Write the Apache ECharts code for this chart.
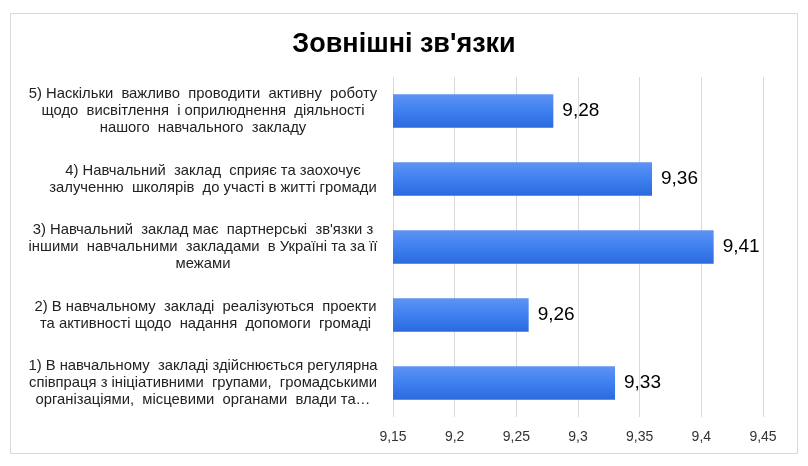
<!DOCTYPE html>
<html>
<head>
  <meta charset="utf-8">
  <script src="https://cdn.jsdelivr.net/npm/echarts@6/dist/echarts.min.js"></script>
  <style>
    body, html {
      height: 100%;
      margin: 0;
      padding: 0;
      background: #ffffff;
    }
    #chart {
      width: 808px;
      height: 466px;
    }
  </style>
</head>
<body>
  <div id="chart"></div>
  <script type="text/javascript">
    // bottom to top, as the category axis draws them
    const categories = [
      "1) В навчальному  закладі здійснюється регулярна\nспівпраця з ініціативними  групами,  громадськими\nорганізаціями,  місцевими  органами  влади та…",
      "2) В навчальному  закладі  реалізуються  проекти\nта активності щодо  надання  допомоги  громаді",
      "3) Навчальний  заклад має  партнерські  зв'язки з\nіншими  навчальними  закладами  в Україні та за її\nмежами",
      "4) Навчальний  заклад  сприяє та заохочує\nзалученню  школярів  до участі в житті громади",
      "5) Наскільки  важливо  проводити  активну  роботу\nщодо  висвітлення  і оприлюднення  діяльності\nнашого  навчального  закладу"
    ];
    const scores = [9.33, 9.26, 9.41, 9.36, 9.28];
    // small shift so each label block sits where the original wrapped it
    const labelShift = [0, 5, 0, 20, 0];

    const axisMin = 9.15;
    const axisMax = 9.45;
    const axisStep = 0.05;

    function comma(v) {
      return Number(v.toFixed(2)).toString().replace(".", ",");
    }

    let rich = {};
    labelShift.forEach((s, i) => {
      rich["c" + i] = {
        fontSize: 14.8,
        lineHeight: 17,
        color: "#222222",
        fontFamily: "Liberation Sans, Arial, sans-serif",
        align: "center",
        padding: [0, 0, 0, s]
      };
    });

    let chart = echarts.init(document.getElementById("chart"), null, { renderer: "canvas" });
    let option = {
      backgroundColor: "#ffffff",
      animation: false,
      title: {
        text: "Зовнішні зв'язки",
        left: "center",
        top: 26,
        textStyle: {
          fontFamily: "Liberation Sans, Arial, sans-serif",
          fontSize: 27,
          fontWeight: "bold",
          color: "#000000"
        }
      },
      graphic: [
        {
          type: "rect",
          shape: { x: 10.5, y: 13.5, width: 787, height: 440 },
          style: { fill: "none", stroke: "#d9d9d9", lineWidth: 1 },
          silent: true
        }
      ],
      grid: {
        left: 393,
        right: 45,
        top: 77,
        bottom: 49
      },
      xAxis: {
        type: "value",
        min: axisMin,
        max: axisMax,
        interval: axisStep,
        axisLine: { show: false },
        axisTick: { show: false },
        splitLine: { show: true, lineStyle: { color: "#d9d9d9", width: 1 } },
        axisLabel: {
          margin: 13,
          fontSize: 14,
          color: "#333333",
          fontFamily: "Liberation Sans, Arial, sans-serif",
          formatter: function (value) {
            return comma(value);
          }
        }
      },
      yAxis: {
        type: "category",
        data: categories,
        axisLine: { show: false },
        axisTick: { show: false },
        axisLabel: {
          // label centre at about x = 203
          margin: 393 - 203,
          align: "center",
          formatter: function (value, idx) {
            return value.split("\n").map(l => "{c" + idx + "|" + l + "}").join("\n");
          },
          rich: rich
        }
      },
      series: [
        {
          type: "bar",
          data: scores,
          barWidth: "49%",
          itemStyle: {
            color: new echarts.graphic.LinearGradient(0, 0, 0, 1, [
              { offset: 0, color: "#5e93f2" },
              { offset: 0.5, color: "#3f80f0" },
              { offset: 1, color: "#2a6ade" }
            ])
          },
          label: {
            show: true,
            position: "right",
            distance: 9,
            fontSize: 19,
            color: "#000000",
            fontFamily: "Liberation Sans, Arial, sans-serif",
            formatter: function (p) {
              return comma(p.value);
            }
          }
        }
      ]
    };

    chart.setOption(option);
  </script>
</body>
</html>
